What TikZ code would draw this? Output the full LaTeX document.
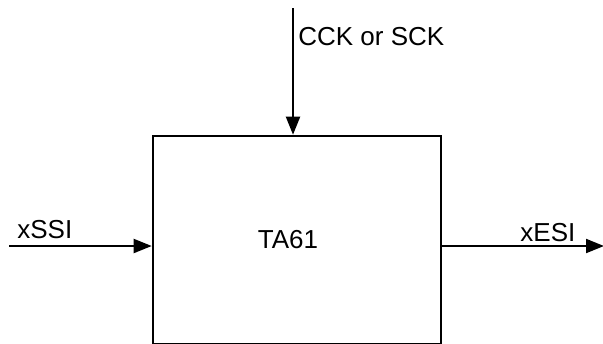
\documentclass[tikz,border=0pt]{standalone}
\usepackage{fontspec}
\setmainfont{Liberation Sans}
\usetikzlibrary{arrows.meta,positioning}

\tikzset{
  blockbox/.style={draw, line width=1.3pt, rectangle, inner sep=0pt},
  sig/.style={line width=1pt, -{Triangle[length=9pt,width=7pt]}},
  siglabel/.style={anchor=base west, inner sep=0pt, font=\fontsize{13}{15}\selectfont},
}

\begin{document}
\begin{tikzpicture}[x=0.5pt, y=-0.5pt]
  \useasboundingbox (0,0) rectangle (603,343);
  % Block
  \node[blockbox, minimum width=144pt, minimum height=104pt] (ta) at (297,240) {};
  \node[inner sep=0pt, font=\fontsize{13}{15}\selectfont] (talabel) at (288,240) {TA61};
  % Input from the left
  \coordinate (ssiin) at (9,246);
  \draw[sig] (ssiin) -- (ssiin -| ta.west);
  \node[siglabel] (ssilabel) at (17,238) {xSSI};
  % Output to the right
  \coordinate (esiout) at (604,246);
  \draw[sig] (esiout -| ta.east) -- (esiout);
  \node[siglabel] (esilabel) at (520,241) {xESI};
  % Clock from the top
  \coordinate (ckin) at (293,8);
  \draw[sig] (ckin) -- (ckin |- ta.north);
  \node[siglabel] (cklabel) at (298,45) {CCK or SCK};
\end{tikzpicture}
\end{document}
